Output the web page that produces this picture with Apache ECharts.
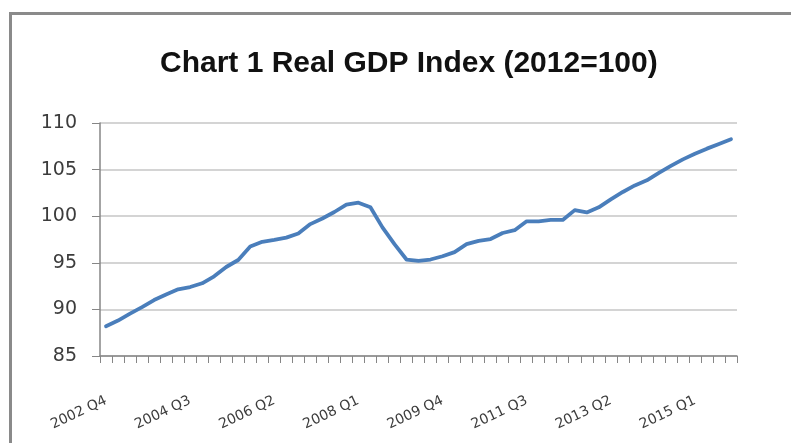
<!DOCTYPE html>
<html>
<head>
<meta charset="utf-8">
<title>Chart 1 Real GDP Index</title>
<style>
  body { margin: 0; background: #fff; }
  #wrap { position: relative; width: 791px; height: 443px; overflow: hidden; }
  #main { width: 791px; height: 443px; }
  /* frame of the original chart, only left and top edges are visible */
  #frame { position: absolute; left: 9px; top: 12px; width: 900px; height: 500px;
           border-left: 3px solid #8a8a8a; border-top: 3px solid #8a8a8a; pointer-events: none; }
</style>
</head>
<body>
<div id="wrap">
  <div id="main"></div>
  <div id="frame"></div>
</div>
<script src="https://cdn.jsdelivr.net/npm/echarts@6/dist/echarts.min.js"></script>
<script>
// quarters, 2002 Q4 .. 2015 Q4
var quarters = [
  '2002 Q4',
  '2003 Q1', '2003 Q2', '2003 Q3', '2003 Q4',
  '2004 Q1', '2004 Q2', '2004 Q3', '2004 Q4',
  '2005 Q1', '2005 Q2', '2005 Q3', '2005 Q4',
  '2006 Q1', '2006 Q2', '2006 Q3', '2006 Q4',
  '2007 Q1', '2007 Q2', '2007 Q3', '2007 Q4',
  '2008 Q1', '2008 Q2', '2008 Q3', '2008 Q4',
  '2009 Q1', '2009 Q2', '2009 Q3', '2009 Q4',
  '2010 Q1', '2010 Q2', '2010 Q3', '2010 Q4',
  '2011 Q1', '2011 Q2', '2011 Q3', '2011 Q4',
  '2012 Q1', '2012 Q2', '2012 Q3', '2012 Q4',
  '2013 Q1', '2013 Q2', '2013 Q3', '2013 Q4',
  '2014 Q1', '2014 Q2', '2014 Q3', '2014 Q4',
  '2015 Q1', '2015 Q2', '2015 Q3', '2015 Q4'
];

// real GDP index (2012=100)
var gdpIndex = [
  88.2,
  88.8, 89.55, 90.25, 91.0,
  91.6, 92.15, 92.4, 92.8,
  93.55, 94.55, 95.3, 96.75,
  97.25, 97.45, 97.7, 98.15,
  99.15, 99.75, 100.45, 101.25,
  101.45, 100.95, 98.8, 97.0,
  95.35, 95.2, 95.35, 95.7,
  96.15, 97.0, 97.35, 97.55,
  98.2, 98.5, 99.45, 99.45,
  99.6, 99.6, 100.65, 100.4,
  100.95, 101.8, 102.6, 103.3,
  103.85, 104.65, 105.4, 106.1,
  106.7, 107.25, 107.75, 108.25
];

var yTicks = { min: 85, max: 110, step: 5 };

var axisGray = '#868686';
var gridGray = '#c6c6c6';
var textGray = '#3c3c3c';

var option = {
    backgroundColor: '#fff',
    animation: false,
    title: {
        text: 'Chart 1 Real GDP Index (2012=100)',
        left: 155,
        top: 44,
        textStyle: {
            fontFamily: '"Liberation Sans", Arial, sans-serif',
            fontWeight: 'bold',
            fontSize: 30,
            color: '#111'
        }
    },
    grid: {
        left: 100,
        right: 54,
        top: 123,
        bottom: 87
    },
    xAxis: {
        type: 'category',
        data: quarters,
        boundaryGap: true,
        axisLine: { lineStyle: { color: axisGray, width: 1.5 } },
        axisTick: { show: true, interval: 0, length: 7, lineStyle: { color: axisGray } },
        axisLabel: {
            interval: 6,
            rotate: 25,
            margin: 44,
            fontFamily: '"DejaVu Sans", sans-serif',
            fontSize: 14,
            color: textGray
        },
        splitLine: { show: false }
    },
    yAxis: {
        type: 'value',
        min: yTicks.min,
        max: yTicks.max,
        interval: yTicks.step,
        axisLine: { show: true, lineStyle: { color: axisGray, width: 1.5 } },
        axisTick: { show: true, length: 8, lineStyle: { color: axisGray } },
        axisLabel: {
            margin: 23,
            fontFamily: '"DejaVu Sans", sans-serif',
            fontSize: 19,
            color: textGray
        },
        splitLine: { lineStyle: { color: gridGray, width: 1.5 } }
    },
    series: [{
        name: 'Real GDP Index',
        type: 'line',
        data: gdpIndex,
        showSymbol: false,
        symbol: 'none',
        lineStyle: { color: '#4a7ebb', width: 3.8, cap: 'round', join: 'round' }
    }]
};

var myChart = echarts.init(document.getElementById('main'));
myChart.setOption(option);
</script>
</body>
</html>
